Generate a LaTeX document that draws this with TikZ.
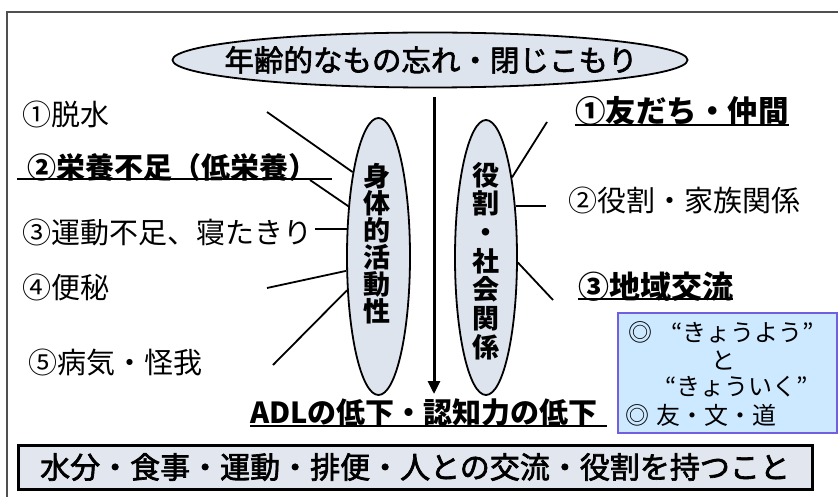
\documentclass[tikz,border=0pt]{standalone}
\usepackage{fontspec}
\setmainfont{Noto Sans CJK JP}
\newfontfamily\jpmed[FakeBold=2.2]{Noto Sans CJK JP}
\usetikzlibrary{shapes.geometric,arrows.meta}
\definecolor{ellfill}{HTML}{DEE4ED}
\definecolor{boxfill}{HTML}{E2E6EE}
\definecolor{bluefill}{HTML}{CCE9FF}
\definecolor{blueedge}{HTML}{7060E0}
\definecolor{framegray}{HTML}{505050}
\newcommand{\cnum}[1]{\makebox[1em][c]{#1}}
\begin{document}
\begin{tikzpicture}[x=1pt,y=-1pt,
  txt/.style={inner sep=0pt, anchor=west, font=\fontsize{29}{31}\selectfont},
  btxt/.style={inner sep=0pt, anchor=west, font=\fontsize{29}{31}\selectfont\bfseries},
  oval/.style={ellipse, draw=black, line width=1.8pt, fill=ellfill, inner sep=0pt},
  link/.style={draw=black, line width=1.8pt},
  uline/.style={draw=black, line width=1.3pt},
  vtxt/.style={align=center, inner sep=0pt},
  small/.style={inner sep=0pt, anchor=west, font=\fontsize{24}{26}\selectfont}]
\useasboundingbox (0,0) rectangle (838,497);
\begin{scope}
\clip (0,0) rectangle (838,497);
\draw[framegray, line width=1.5pt] (845,12) -- (7,12) -- (7,505);
\end{scope}
% title
\node[oval, minimum width=515pt, minimum height=55pt] (T) at (430,60) {};
\node[inner sep=0pt, font=\fontsize{29.5}{31}\selectfont\jpmed] (Tt) at (431,60) {年齢的なもの忘れ・閉じこもり};
% main arrow
\coordinate (a1) at (434,97);
\coordinate (a2) at (434,394);
\draw[line width=3pt, -{Triangle[length=13pt,width=12pt]}] (a1) -- (a2);
% ellipses
\node[oval, minimum width=63pt, minimum height=277pt] (L) at (378.5,256.5) {};
\node[vtxt, font=\fontsize{27}{27}\selectfont\bfseries] (Lt) at (377,244) {身\\体\\的\\活\\動\\性};
\node[oval, minimum width=62pt, minimum height=275pt] (R) at (486,257.5) {};
\node[vtxt, font=\fontsize{27}{28.7}\selectfont\bfseries] (Rt) at (486,261) {役\\割\\・\\社\\会\\関\\係};
% left texts
\node[txt] (n1) at (22,114) {\cnum{①}脱水};
\node[btxt] (n2) at (27,167) {\cnum{②}栄養不足（低栄養）};
\node[txt] (n3) at (22,232) {\cnum{③}運動不足、寝たきり};
\node[txt] (n4) at (22,287) {\cnum{④}便秘};
\node[txt] (n5) at (28,363) {\cnum{⑤}病気・怪我};
\coordinate (u2a) at (17,179);
\coordinate (u2b) at (332,179);
\draw[uline] (u2a) -- (u2b);
% right texts
\node[btxt, font=\fontsize{30.5}{32}\selectfont\bfseries] (r1) at (575,111) {\cnum{①}友だち・仲間};
\coordinate (u4a) at (575,125);
\coordinate (u4b) at (789,125);
\draw[uline] (u4a) -- (u4b);
\node[txt] (r2) at (568,200) {\cnum{②}役割・家族関係};
\node[btxt, font=\fontsize{31}{32}\selectfont\bfseries] (r3) at (578,287) {\cnum{③}地域交流};
\coordinate (u5a) at (578,299);
\coordinate (u5b) at (733,299);
\draw[uline] (u5a) -- (u5b);
% connectors left
\coordinate (l1) at (267,112);
\draw[link] (l1) -- (L.107);
\coordinate (l2) at (310,180);
\draw[link] (l2) -- (L.121);
\coordinate (l3) at (315,230);
\draw[link] (L.139) -- (L.139 -| l3);
\coordinate (l4) at (267,288);
\draw[link] (l4) -- (L.204);
\coordinate (l5) at (273,365);
\draw[link] (l5) -- (L.227);
% connectors right
\coordinate (c1) at (547,122);
\draw[link] (c1) -- (R.72);
\coordinate (c2) at (546,207);
\draw[link] (R.60) -- (R.60 -| c2);
\coordinate (c3) at (553,300);
\draw[link] (R.351) -- (c3);
% ADL
\node[btxt] (adl) at (250,413) {ADLの低下・認知力の低下};
\coordinate (u6a) at (250,426);
\coordinate (u6b) at (607,426);
\draw[uline] (u6a) -- (u6b);
% blue box
\node[draw=blueedge, fill=bluefill, line width=1.5pt, minimum width=219pt, minimum height=120pt, inner sep=0pt] (B) at (727.5,373) {};
\node[small] (b1) at (628,332) {◎\hspace{0.8em}“きょうよう”};
\node[inner sep=0pt, font=\fontsize{24}{26}\selectfont] (b2) at (723,360) {と};
\node[small] (b3) at (665,387) {“きょういく”};
\node[small] (b4) at (625,415) {◎\hspace{0.3em}友・文・道};
% bottom box
\node[draw=black, fill=boxfill, line width=3pt, minimum width=794pt, minimum height=44pt, inner sep=0pt, font=\fontsize{30}{32}\selectfont\jpmed] (BB) at (415,467) {水分・食事・運動・排便・人との交流・役割を持つこと};
\end{tikzpicture}
\end{document}
